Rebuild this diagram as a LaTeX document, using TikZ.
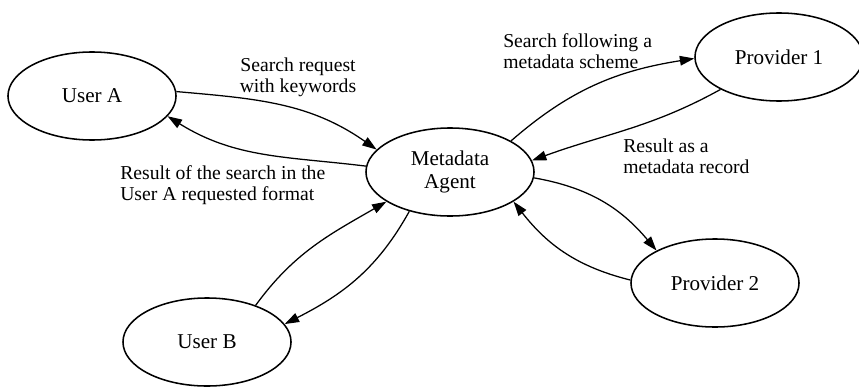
\documentclass[tikz,border=0pt]{standalone}
\usepackage{fontspec}
\setmainfont{Liberation Serif}
\usetikzlibrary{shapes.geometric,arrows.meta}
\begin{document}
\begin{tikzpicture}[x=0.025cm,y=-0.025cm,
    every node/.style={font=\fontsize{14pt}{15pt}\selectfont},
    party/.style={ellipse,draw,line width=1.1pt,minimum width=4.2cm,minimum height=2.2cm,inner sep=0pt,align=center,font=\fontsize{15pt}{16.5pt}\selectfont},
    lbl/.style={anchor=west,align=left,inner sep=0pt},
    flow/.style={line width=0.9pt,-{Triangle[length=0.36cm,width=0.24cm]}}]
    \useasboundingbox (0,0) rectangle (859,387);
    % the parties
    \node[party] (ua) at (92,96) {User A};
    \node[party] (ub) at (207,342) {User B};
    \node[party] (ag) at (450,172) {Metadata\\Agent};
    \node[party] (p1) at (779,57) {Provider 1};
    \node[party] (p2) at (715,283) {Provider 2};
    % requests and answers
    \draw[flow] (ua.3) to[out=-5,in=145] (ag.163);
    \draw[flow] (ag.176) to[out=173,in=-32] (ua.-15);
    \draw[flow] (ub.37) to[out=54,in=210] (ag.205);
    \draw[flow] (ag.224) to[out=241,in=27] (ub.13);
    \draw[flow] (ag.27) to[out=41,in=189] (p1.181);
    \draw[flow] (p1.209) to[out=209,in=20] (ag.8);
    \draw[flow] (ag.-4) to[out=-10,in=130] (p2.151);
    \draw[flow] (p2.178) to[out=166,in=-52] (ag.-25);
    % labels
    \node[align=center,inner sep=0pt] (lreq) at (298,77) {Search request\\with keywords};
    \node[lbl] (lres) at (120,185) {Result of the search in the\\User A requested format};
    \node[lbl] (lsch) at (503,51) {Search following a\\metadata scheme};
    \node[lbl] (lrec) at (623,156) {Result as a\\metadata record};
\end{tikzpicture}
\end{document}
